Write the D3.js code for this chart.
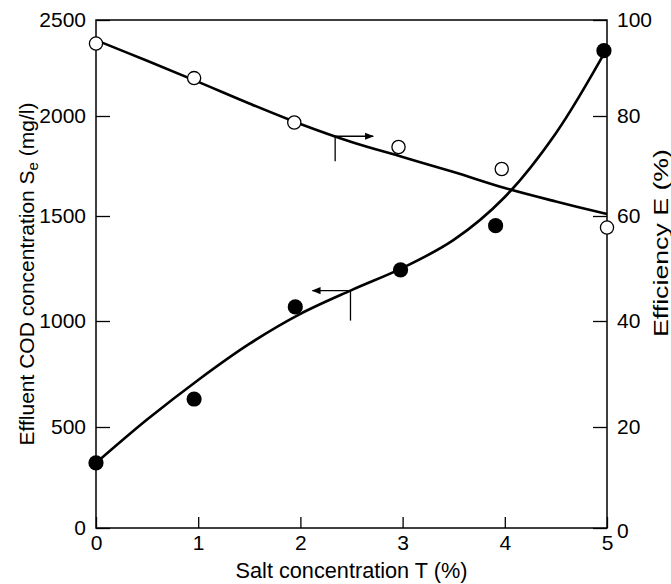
<!DOCTYPE html>
<html>
<head>
<meta charset="utf-8">
<script src="https://cdn.jsdelivr.net/npm/d3@7/dist/d3.min.js"></script>
<style>
  html, body { margin: 0; padding: 0; background: #fff; }
  svg { display: block; font-family: "Liberation Sans", Arial, Helvetica, sans-serif; }
</style>
</head>
<body>
<svg id="chart" width="671" height="584"></svg>
<script>
// Salt concentration T (%) at which each sample was measured
const codSalt = [0, 0.96, 1.95, 2.98, 3.91, 4.97];
const effSalt = [0, 0.96, 1.94, 2.96, 3.97, 5.0];
// Effluent COD Se (mg/l), filled markers, left axis
const codValues = [322, 632, 1067, 1243, 1454, 2340];
// Removal efficiency E (%), open markers, right axis
const effValues = [95.1, 87.9, 78.7, 73.8, 69.4, 57.8];

// Fitted trend curves sampled every 0.5 % salt
const fitSalt = [0, 0.5, 1, 1.5, 2, 2.5, 3, 3.5, 4, 4.5, 5];
const codFit = [322, 535, 722, 892, 1034, 1147, 1253, 1386, 1595, 1914, 2352];
const effFit = [95.8, 91.5, 87.1, 82.6, 78.4, 74.8, 71.8, 68.8, 65.6, 62.9, 60.4];

// Axis ticks
const xTicks = [0, 1, 2, 3, 4, 5];
const leftTicks = [0, 500, 1000, 1500, 2000, 2500];
const rightTicks = [0, 20, 40, 60, 80, 100];

// Arrow annotations: which way they point and where they sit along their curve
const codArrow = { salt: 2.49, dir: -1, drop: 30 };
const effArrow = { salt: 2.34, dir: 1, drop: 25 };

const svg = d3.select("#chart");
const FONT = 21;

// The printed value axes are not evenly spaced, so both use
// piecewise-linear scales through their tick marks.
const tickPx = [528, 427, 321, 216, 116, 20];
const x = d3.scaleLinear().domain([0, 5]).range([96, 607]);
const yL = d3.scaleLinear().domain(leftTicks).range(tickPx);
const yR = d3.scaleLinear().domain(rightTicks).range(tickPx);

// arrowhead marker
svg.append("defs").append("marker")
  .attr("id", "head")
  .attr("viewBox", "0 0 10 10")
  .attr("refX", 9).attr("refY", 5)
  .attr("markerWidth", 9).attr("markerHeight", 9)
  .attr("markerUnits", "userSpaceOnUse")
  .attr("orient", "auto")
  .append("path").attr("d", "M0,1 L10,5 L0,9 Z").attr("fill", "#000");

// axes (ticks point into the plot)
const gx = svg.append("g").attr("transform", `translate(0,${yL(0)})`)
  .call(d3.axisBottom(x).tickValues(xTicks).tickSizeInner(-11).tickSizeOuter(0).tickPadding(7).tickFormat(d3.format("d")));
const gl = svg.append("g").attr("transform", `translate(${x(0)},0)`)
  .call(d3.axisLeft(yL).tickValues(leftTicks).tickSizeInner(-14).tickSizeOuter(0).tickPadding(10).tickFormat(d3.format("d")));
const gr = svg.append("g").attr("transform", `translate(${x(5)},0)`)
  .call(d3.axisRight(yR).tickValues(rightTicks).tickSizeInner(-14).tickSizeOuter(0).tickPadding(10).tickFormat(d3.format("d")));

[gx, gl, gr].forEach(g => {
  g.select(".domain").remove();
  g.selectAll(".tick line").attr("stroke", "#000").attr("stroke-width", 1.3);
  g.selectAll(".tick text").attr("fill", "#000").style("font-size", FONT + "px")
    .style("font-family", '"Liberation Sans", Arial, Helvetica, sans-serif');
});
// right-axis zero sits beside the x label "5"
gr.selectAll(".tick").filter(d => d === 0).select("text").attr("dy", "0.45em");

// plot frame
svg.append("rect")
  .attr("x", x(0)).attr("y", yL(2500))
  .attr("width", x(5) - x(0)).attr("height", yL(0) - yL(2500))
  .attr("fill", "none").attr("stroke", "#000").attr("stroke-width", 1.5);

// fitted curves
const codLine = d3.line().x((d, i) => x(fitSalt[i])).y(d => yL(d)).curve(d3.curveCatmullRom.alpha(0.5));
const effLine = d3.line().x((d, i) => x(fitSalt[i])).y(d => yR(d)).curve(d3.curveCatmullRom.alpha(0.5));
svg.append("path").datum(codFit).attr("d", codLine)
  .attr("fill", "none").attr("stroke", "#000").attr("stroke-width", 2.6);
svg.append("path").datum(effFit).attr("d", effLine)
  .attr("fill", "none").attr("stroke", "#000").attr("stroke-width", 2.6);

// value on a sampled curve at a given salt level
const along = (vals, s) => d3.scaleLinear().domain(fitSalt).range(vals)(s);

// arrows pointing to the axis each curve is read against
function drawArrow(a, vals, yScale) {
  const px = x(a.salt), py = yScale(along(vals, a.salt));
  svg.append("line").attr("x1", px).attr("y1", py).attr("x2", px).attr("y2", py + a.drop)
    .attr("stroke", "#000").attr("stroke-width", 1.3);
  svg.append("line").attr("x1", px).attr("y1", py).attr("x2", px + a.dir * 38).attr("y2", py)
    .attr("stroke", "#000").attr("stroke-width", 1.3).attr("marker-end", "url(#head)");
}
drawArrow(codArrow, codFit, yL);
drawArrow(effArrow, effFit, yR);

// markers
svg.append("g").selectAll("circle").data(codValues).join("circle")
  .attr("cx", (d, i) => x(codSalt[i])).attr("cy", d => yL(d)).attr("r", 7.6)
  .attr("fill", "#000");
svg.append("g").selectAll("circle").data(effValues).join("circle")
  .attr("cx", (d, i) => x(effSalt[i])).attr("cy", d => yR(d)).attr("r", 6.6)
  .attr("fill", "#fff").attr("stroke", "#000").attr("stroke-width", 1.3);

// axis titles
svg.append("text").attr("x", (x(0) + x(5)) / 2).attr("y", 578)
  .attr("text-anchor", "middle").style("font-size", "21.7px")
  .text("Salt concentration T (%)");

const lt = svg.append("text")
  .attr("transform", `translate(34,${(yL(0) + yL(2500)) / 2}) rotate(-90)`)
  .attr("text-anchor", "middle").style("font-size", FONT + "px");
lt.append("tspan").text("Effluent COD concentration S");
lt.append("tspan").text("e").style("font-size", "15px").attr("dy", 4);
lt.append("tspan").text(" (mg/l)").attr("dy", -4);

svg.append("text")
  .attr("transform", "translate(668,243) rotate(-90)")
  .attr("text-anchor", "middle").style("font-size", FONT + "px")
  .attr("textLength", 188).attr("lengthAdjust", "spacingAndGlyphs")
  .text("Efficiency E (%)");
</script>
</body>
</html>
